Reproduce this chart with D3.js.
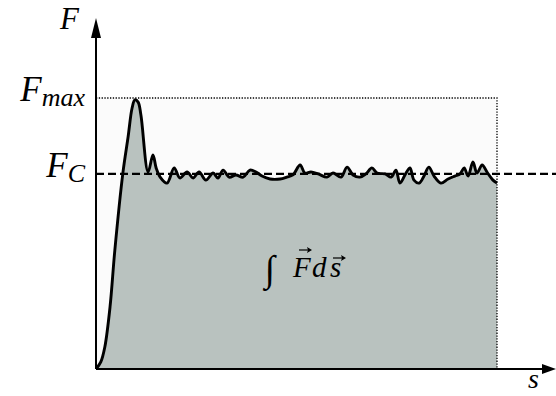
<!DOCTYPE html>
<html>
<head>
<meta charset="utf-8">
<script src="https://cdn.jsdelivr.net/npm/d3@7"></script>
<style>
  html, body { margin: 0; padding: 0; background: #fff; }
  svg { display: block; }
</style>
</head>
<body>
<svg id="chart" width="556" height="396"></svg>
<script>
// Displacement s (percent of the run) and force F (percent of F_max)
const sValues = [0, 1.2, 2.2, 3.5, 4.7, 6.7, 8.0, 9.0, 9.7, 10.5, 11.2, 13.0, 14.2, 15.0, 16.0,
  17.7, 19.5, 20.9, 22.7, 24.2, 25.7, 27.4, 29.2, 30.4, 31.7, 33.2, 34.9, 36.7, 38.4, 39.9,
  41.4, 43.4, 45.9, 47.6, 49.1, 50.9, 52.1, 53.6, 55.4, 57.6, 59.1, 61.1, 62.6, 64.1, 65.8,
  67.3, 68.8, 70.1, 72.1, 73.6, 74.8, 75.8, 77.3, 78.3, 79.3, 80.6, 81.8, 83.0, 84.3, 86.0,
  87.8, 89.5, 90.8, 91.8, 92.8, 94.0, 95.0, 96.3, 97.5, 99.0, 100];
const fValues = [0, 2.6, 8.1, 22.9, 43.9, 72.3, 85.6, 96.3, 99.3, 98.5, 93.7, 72.7, 79.0, 74.2, 70.8,
  68.6, 74.2, 70.5, 72.7, 70.5, 72.7, 69.7, 72.3, 70.5, 73.4, 70.8, 71.6, 70.8, 73.4, 72.7,
  71.2, 70.1, 70.1, 70.8, 71.6, 75.3, 72.3, 72.7, 72.0, 70.8, 72.3, 70.8, 74.5, 71.6, 70.8,
  72.0, 74.2, 72.3, 72.0, 70.8, 73.4, 68.6, 72.3, 74.2, 69.7, 68.6, 71.2, 74.5, 71.2, 68.6,
  70.1, 71.2, 72.0, 74.2, 71.2, 76.4, 72.3, 75.3, 72.7, 69.7, 68.6];
const levelValues = [100, 72];          // F_max, F_C
const levelLabels = [["F", "max"], ["F", "C"]];

const data = sValues.map((s, i) => ({ s, f: fValues[i] }));
const [fMax, fC] = levelValues;
const MATH_FONT = "Liberation Serif";

const svg = d3.select("#chart");
const x = d3.scaleLinear().domain([0, 100]).range([96, 497]);
const y = d3.scaleLinear().domain([0, 100]).range([369, 98]);

function mathText(sel) {
  return sel.attr("font-family", MATH_FONT).attr("font-style", "italic").attr("fill", "#000");
}

// Light box spanning the run up to F_max
svg.append("rect")
  .attr("x", x(0)).attr("y", y(fMax))
  .attr("width", x(100) - x(0)).attr("height", y(0) - y(fMax))
  .attr("fill", "#fbfbfb");

const curve = d3.curveCatmullRom.alpha(0.5);

// Work area under the force curve
svg.append("path")
  .datum(data)
  .attr("fill", "#b9c2bf")
  .attr("d", d3.area().x(d => x(d.s)).y0(y(0)).y1(d => y(d.f)).curve(curve));

// F_max reference (dotted) and box edge
svg.append("path")
  .attr("d", `M${x(0)},${y(fMax)}H${x(100)}V${y(0)}`)
  .attr("fill", "none").attr("stroke", "#000")
  .attr("stroke-width", 1.3).attr("stroke-dasharray", "1.3,1.5");

// F_C reference (dashed)
svg.append("line")
  .attr("x1", x(0)).attr("x2", 556)
  .attr("y1", y(fC)).attr("y2", y(fC))
  .attr("stroke", "#000").attr("stroke-width", 2.4)
  .attr("stroke-dasharray", "8,4");

// Force curve
svg.append("path")
  .datum(data)
  .attr("fill", "none").attr("stroke", "#000")
  .attr("stroke-width", 2.9).attr("stroke-linejoin", "round")
  .attr("d", d3.line().x(d => x(d.s)).y(d => y(d.f)).curve(curve));

// Axes with arrow heads
svg.append("line").attr("x1", x(0)).attr("x2", 545).attr("y1", y(0)).attr("y2", y(0))
  .attr("stroke", "#000").attr("stroke-width", 2);
svg.append("path").attr("d", `M556,${y(0)}L542,${y(0) - 5}L542,${y(0) + 5}Z`).attr("fill", "#000");
svg.append("line").attr("x1", x(0)).attr("x2", x(0)).attr("y1", y(0)).attr("y2", 34)
  .attr("stroke", "#000").attr("stroke-width", 2);
svg.append("path").attr("d", `M${x(0)},18L${x(0) - 5},38L${x(0) + 5},38Z`).attr("fill", "#000");

// Axis names
mathText(svg.append("text")).attr("x", 60).attr("y", 29).attr("font-size", 31).text("F");
mathText(svg.append("text")).attr("x", 528).attr("y", 388).attr("font-size", 28).text("s");

// Level labels with subscripts
levelLabels.forEach((lab, i) => {
  const t = mathText(svg.append("text"))
    .attr("x", 85).attr("y", y(levelValues[i]) + 3)
    .attr("text-anchor", "end").attr("font-size", 35);
  t.append("tspan").text(lab[0]);
  t.append("tspan").attr("font-size", 26).attr("dy", 5).attr("dx", 0).text(lab[1]);
});

// ∫ F ds label with vector arrows
const g = svg.append("g");
mathText(g.append("text")).attr("x", 265).attr("y", 281).attr("font-size", 37).text("∫");
mathText(g.append("text")).attr("x", 293).attr("y", 277).attr("font-size", 29).text("F");
mathText(g.append("text")).attr("x", 312).attr("y", 277).attr("font-size", 29).text("d");
mathText(g.append("text")).attr("x", 330).attr("y", 277).attr("font-size", 29).text("s");
function vecArrow(x0, x1, yy) {
  g.append("line").attr("x1", x0).attr("x2", x1 - 2).attr("y1", yy).attr("y2", yy)
    .attr("stroke", "#000").attr("stroke-width", 1.2);
  g.append("path").attr("d", `M${x1},${yy}L${x1 - 5},${yy - 3}L${x1 - 4},${yy}L${x1 - 5},${yy + 3}Z`)
    .attr("fill", "#000");
}
vecArrow(299, 312, 250);
vecArrow(333, 346, 258);
</script>
</body>
</html>
